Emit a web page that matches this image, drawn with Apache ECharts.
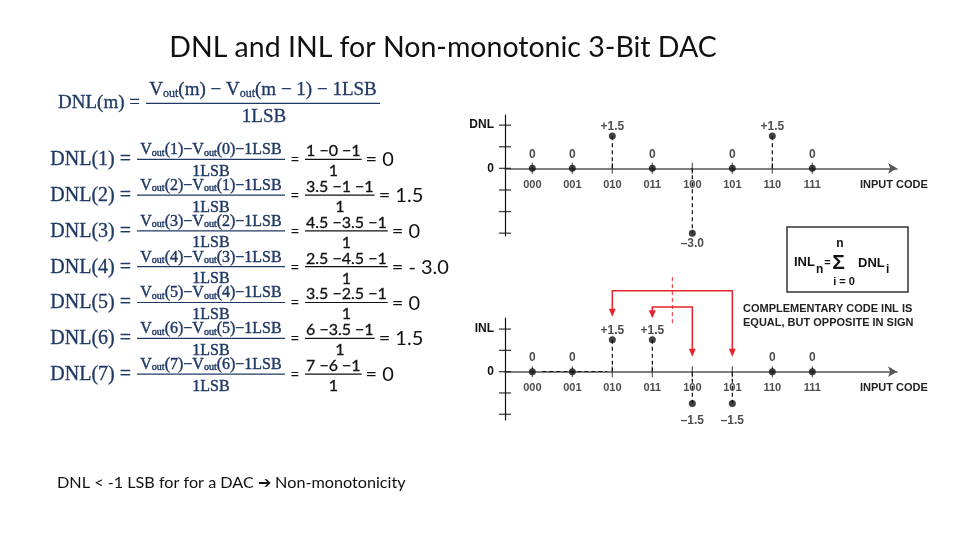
<!DOCTYPE html>
<html>
<head>
<meta charset="utf-8">
<title>DNL and INL for Non-monotonic 3-Bit DAC</title>
<script src="https://cdn.jsdelivr.net/npm/echarts@6/dist/echarts.min.js"></script>
<style>
  html, body { margin: 0; background: #fff; }
  #chart { width: 960px; height: 540px; }
</style>
</head>
<body>
<div id="chart"></div>
<script>
// data
const codes = ["000", "001", "010", "011", "100", "101", "110", "111"];
const vout = [0, 1, 3.5, 4.5, 2.5, 3.5, 6, 7];
const dnl = [0, 0, 1.5, 0, -3.0, 0, 1.5, 0];
const inl = [0, 0, 1.5, 1.5, -1.5, -1.5, 0, 0];
const dnlTicks = [-3, -2, -1, 0, 1, 2];
const inlTicks = [-2, -1, 0, 1, 2];
// complementary code pairs: [from code, to code]
const complementPairs = [[2, 5], [3, 4]];

const NAVY = "#1f3864";
const INK = "#111";
const RED = "#e3262b";
const SERIF = '"Liberation Serif", "DejaVu Serif", serif';
const CAL = 'Lato, "Open Sans", sans-serif';
const ARIAL = '"Liberation Sans", Arial, sans-serif';

const X_MIN = -0.683, X_MAX = 9.117;

const measureCtx = document.createElement("canvas").getContext("2d");
function textWidth(str, font) {
  measureCtx.font = font;
  return measureCtx.measureText(str).width;
}
function fitSize(str, family, base, target) {
  return Math.round(base * target / textWidth(str, base + "px " + family) * 10) / 10;
}

function txt(x, y, text, font, fill, align, rich, heavy) {
  const style = {
    text: text, font: font, fill: fill,
    align: align || "left", textAlign: align || "left",
    verticalAlign: "middle", textVerticalAlign: "middle"
  };
  if (rich) style.rich = rich;
  if (heavy) { style.stroke = fill; style.lineWidth = heavy; }
  return { type: "text", x: x, y: y, silent: true, style: style };
}

function hbar(x1, x2, y, color) {
  return {
    type: "line", silent: true,
    shape: { x1: x1, y1: y, x2: x2, y2: y },
    style: { stroke: color, lineWidth: 1.2 }
  };
}

function subRich(size) {
  return { s: { fontSize: size, fontFamily: SERIF, fill: NAVY, verticalAlign: "bottom" } };
}

function fmtResult(v) {
  return v < 0 ? "- " + Math.abs(v).toFixed(1) : String(v);
}

function fmtPoint(v) {
  if (v === 0) return "0";
  return (v > 0 ? "+" : "\u2013") + Math.abs(v).toFixed(1);
}

// ---------- slide text ----------
const els = [];

const title = "DNL and INL for Non-monotonic 3-Bit DAC";
els.push(txt(443, 48, title, fitSize(title, CAL, 27, 547) + "px " + CAL, INK, "center"));

// general definition
els.push(txt(140, 103, "DNL(m) =", "19px " + SERIF, NAVY, "right", null, 0.3));
els.push(txt(263, 90, "V{s|out}(m) \u2212 V{s|out}(m \u2212 1) \u2212 1LSB", "19px " + SERIF, NAVY, "center", subRich(12), 0.3));
els.push(hbar(146, 380, 103.3, NAVY));
els.push(txt(264, 117, "1LSB", "19px " + SERIF, NAVY, "center", null, 0.3));

// one line per code
for (let m = 1; m < vout.length; m++) {
  const yc = 160 + (m - 1) * 35.8;
  els.push(txt(131, yc, "DNL(" + m + ") =", "20px " + SERIF, NAVY, "right", null, 0.3));
  els.push(txt(211, yc - 10, "V{s|out}(" + m + ")\u2212V{s|out}(" + (m - 1) + ")\u22121LSB", "16px " + SERIF, NAVY, "center", subRich(10), 0.4));
  els.push(hbar(137, 285, yc - 0.7, NAVY));
  els.push(txt(211, yc + 11.5, "1LSB", "16px " + SERIF, NAVY, "center", null, 0.4));
  els.push(txt(295, yc, "=", "16px " + CAL, INK, "center"));
  const num = vout[m] + " \u2212" + vout[m - 1] + " \u22121";
  const w = textWidth(num, "16px " + CAL) + 2;
  els.push(txt(305 + w / 2, yc - 9, num, "16px " + CAL, INK, "center", null, 0.3));
  els.push(hbar(305, 305 + w, yc - 0.7, INK));
  els.push(txt(305 + w / 2, yc + 11, "1", "16px " + CAL, INK, "center", null, 0.3));
  els.push(txt(305 + w + 4, yc, "= " + fmtResult(dnl[m]), "20px " + CAL, INK, "left"));
}

const footer = "DNL < -1 LSB for for a DAC \u2794 Non-monotonicity";
els.push(txt(57, 483, footer, fitSize(footer, CAL, 15, 350) + "px " + CAL, INK, "left"));

// INL formula box
els.push({ type: "rect", silent: true, shape: { x: 787, y: 227, width: 121, height: 65 },
  style: { fill: "#fff", stroke: "#333", lineWidth: 1.5 } });
els.push(txt(794, 262, "INL", "bold 13px " + ARIAL, INK, "left"));
els.push(txt(816, 270, "n", "bold 12px " + ARIAL, INK, "left"));
els.push(txt(827.5, 263, "=", "bold 11px " + ARIAL, INK, "center"));
els.push(txt(838.5, 263, "\u03a3", "bold 21px " + ARIAL, INK, "center"));
els.push(txt(840, 244, "n", "bold 12px " + ARIAL, INK, "center"));
els.push(txt(844, 282, "i = 0", "bold 11px " + ARIAL, INK, "center"));
els.push(txt(858, 263, "DNL", "bold 13px " + ARIAL, INK, "left"));
els.push(txt(886, 270, "i", "bold 12px " + ARIAL, INK, "left"));

els.push(txt(743, 309, "COMPLEMENTARY CODE INL IS", "bold 11px " + ARIAL, "#222", "left"));
els.push(txt(743, 323, "EQUAL, BUT OPPOSITE IN SIGN", "bold 11px " + ARIAL, "#222", "left"));

els.push(txt(860, 185, "INPUT CODE", "bold 11px " + ARIAL, "#222", "left"));
els.push(txt(860, 388, "INPUT CODE", "bold 11px " + ARIAL, "#222", "left"));

// ---------- axes ----------
function xAxisFor(gi) {
  return {
    gridIndex: gi, type: "value", min: X_MIN, max: X_MAX,
    axisLine: { onZero: true, symbol: ["none", "arrow"], symbolSize: [8, 9],
      lineStyle: { color: "#555", width: 1.5 } },
    axisTick: { show: false },
    splitLine: { show: false },
    axisLabel: { show: false }
  };
}

function yAxisFor(gi, min, max, topTick, name) {
  return {
    gridIndex: gi, type: "value", min: min, max: max,
    axisLine: { onZero: false, lineStyle: { color: INK, width: 1.2 } },
    axisTick: { show: false },
    splitLine: { show: false },
    axisLabel: {
      customValues: [0, topTick],
      formatter: (v) => (v === 0 ? "0" : name),
      margin: 11, fontFamily: ARIAL, fontWeight: "bold", fontSize: 12, color: INK
    }
  };
}

// ---------- series ----------
function tickSeries(gi, ticks) {
  return [
    { type: "scatter", xAxisIndex: gi, yAxisIndex: gi, silent: true, z: 1,
      symbol: "rect", symbolSize: [1.3, 11], itemStyle: { color: "#444" },
      data: codes.map((c, i) => [i, 0]),
      label: { show: true, position: "bottom", distance: 5.5,
        formatter: (p) => codes[p.dataIndex],
        fontFamily: ARIAL, fontWeight: "bold", fontSize: 11, color: "#222" } },
    { type: "scatter", xAxisIndex: gi, yAxisIndex: gi, silent: true, z: 1,
      symbol: "rect", symbolSize: [12, 1.3], itemStyle: { color: INK },
      data: ticks.map((t) => [X_MIN, t]) }
  ];
}

function stemSeries(gi, values) {
  return {
    type: "custom", xAxisIndex: gi, yAxisIndex: gi, silent: true, z: 2,
    data: values.map((v, i) => [i, v]).filter((d) => d[1] !== 0),
    renderItem: (params, api) => {
      const a = api.coord([api.value(0), 0]);
      const b = api.coord([api.value(0), api.value(1)]);
      return { type: "line", shape: { x1: a[0], y1: a[1], x2: b[0], y2: b[1] },
        style: { stroke: INK, lineWidth: 1.2, lineDash: [4, 3] } };
    }
  };
}

function dotSeries(gi, values, dist) {
  return {
    type: "scatter", xAxisIndex: gi, yAxisIndex: gi, z: 3,
    symbolSize: 7, itemStyle: { color: INK },
    data: values.map((v, i) => ({
      value: [i, v],
      label: { position: v < 0 ? "bottom" : "top", distance: v === 0 ? dist[0] : (v > 0 ? dist[1] : dist[2]) }
    })),
    label: { show: true, formatter: (p) => fmtPoint(p.value[1]),
      fontFamily: ARIAL, fontWeight: "bold", fontSize: 12, color: "#222" }
  };
}

const inlDots = dotSeries(1, inl, [4, 0, 8]);
inlDots.markLine = {
  silent: true, symbol: "none", label: { show: false },
  lineStyle: { type: [4, 3], color: INK, width: 1.2 },
  data: [[{ coord: [0.25, 0] }, { coord: [1.87, 0] }]]
};

// red complementary-code arrows, levels in INL units
const arrowSeries = {
  type: "custom", xAxisIndex: 1, yAxisIndex: 1, silent: true, clip: false, z: 4,
  data: complementPairs.map((p, k) => [p[0], p[1], k === 0 ? 3.8 : 3.04, k === 0 ? 2.58 : 2.51]),
  renderItem: (params, api) => {
    const from = api.value(0), to = api.value(1), top = api.value(2), leftTip = api.value(3);
    const p0 = api.coord([from, leftTip]);
    const p1 = api.coord([from, top]);
    const p2 = api.coord([to, top]);
    const p3 = api.coord([to, 0.7]);
    const head = (p) => ({ type: "polygon", shape: { points: [[p[0] - 3.5, p[1] - 8], [p[0] + 3.5, p[1] - 8], [p[0], p[1]]] },
      style: { fill: RED } });
    return { type: "group", children: [
      { type: "polyline", shape: { points: [[p0[0], p0[1] - 7], p1, p2, [p3[0], p3[1] - 7]] },
        style: { stroke: RED, lineWidth: 1.5, fill: null } },
      head(p0), head(p3)
    ] };
  }
};

const dividerSeries = {
  type: "custom", xAxisIndex: 1, yAxisIndex: 1, silent: true, clip: false, z: 4,
  data: [[3.5, 2.28, 4.54]],
  renderItem: (params, api) => {
    const a = api.coord([api.value(0), api.value(1)]);
    const b = api.coord([api.value(0), api.value(2)]);
    return { type: "line", shape: { x1: a[0], y1: a[1], x2: b[0], y2: b[1] },
      style: { stroke: RED, lineWidth: 1, lineDash: [4, 3] } };
  }
};

const chart = echarts.init(document.getElementById("chart"));
chart.setOption({
  backgroundColor: "#fff",
  animation: false,
  grid: [
    { left: 505, top: 115, width: 392, height: 121 },
    { left: 505, top: 318, width: 392, height: 102 }
  ],
  xAxis: [xAxisFor(0), xAxisFor(1)],
  yAxis: [yAxisFor(0, -3.13, 2.47, 2, "DNL"), yAxisFor(1, -2.27, 2.52, 2, "INL")],
  series: [
    ...tickSeries(0, dnlTicks),
    ...tickSeries(1, inlTicks),
    stemSeries(0, dnl),
    stemSeries(1, inl),
    dotSeries(0, dnl, [4, 0, 1]),
    inlDots,
    arrowSeries,
    dividerSeries
  ],
  graphic: { elements: els }
});
</script>
</body>
</html>
